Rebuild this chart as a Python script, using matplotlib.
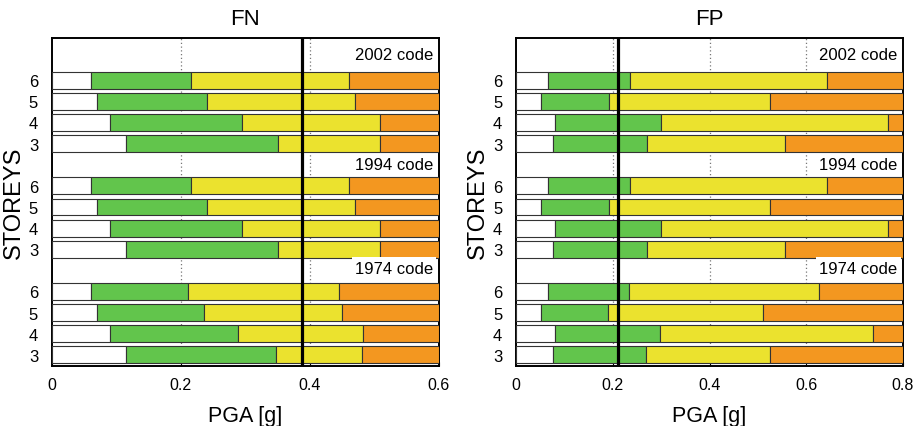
import matplotlib
matplotlib.use("Agg")
import matplotlib.pyplot as plt
import numpy as np

storeys = ["6", "5", "4", "3"]
codes = ["2002 code", "1994 code", "1974 code"]

# cumulative limits (white end, green end, yellow end) per code, rows 6,5,4,3
fn_limits = {
    "2002 code": [[0.061, 0.215, 0.461], [0.070, 0.240, 0.470], [0.090, 0.294, 0.509], [0.115, 0.351, 0.509]],
    "1994 code": [[0.061, 0.215, 0.461], [0.070, 0.240, 0.470], [0.090, 0.294, 0.509], [0.115, 0.351, 0.509]],
    "1974 code": [[0.061, 0.211, 0.445], [0.070, 0.236, 0.450], [0.090, 0.289, 0.483], [0.115, 0.347, 0.481]],
}
fp_limits = {
    "2002 code": [[0.065, 0.235, 0.643], [0.052, 0.192, 0.526], [0.081, 0.300, 0.768], [0.077, 0.270, 0.556]],
    "1994 code": [[0.065, 0.235, 0.643], [0.052, 0.192, 0.526], [0.081, 0.300, 0.768], [0.077, 0.270, 0.556]],
    "1974 code": [[0.065, 0.233, 0.626], [0.052, 0.191, 0.510], [0.081, 0.297, 0.737], [0.077, 0.268, 0.526]],
}
fn_xmax = 0.6
fp_xmax = 0.8
fn_line = 0.387
fp_line = 0.211
fn_ticks = [0, 0.2, 0.4, 0.6]
fp_ticks = [0, 0.2, 0.4, 0.6, 0.8]
fn_ticklabels = ["0", "0.2", "0.4", "0.6"]
fp_ticklabels = ["0", "0.2", "0.4", "0.6", "0.8"]

colors = ["white", "#62C54C", "#EBE22E", "#F39720"]

plt.rcParams['font.family'] = ['Liberation Sans', 'DejaVu Sans']

fig = plt.figure(figsize=(9.2, 4.27), dpi=100)
ax1 = fig.add_axes([0.0565, 0.1405, 0.4205, 0.7682])
ax2 = fig.add_axes([0.561, 0.1405, 0.4205, 0.7682])

label_offsets = [0.2, 0.0, 0.1]


def draw(ax, limits, xmax, vline, ticks, ticklabels, title):
    ypos = []
    ylabels = []
    top = 14
    for gi, code in enumerate(codes):
        header_y = top - gi * 5
        for ri, lims in enumerate(limits[code]):
            y = header_y - 1 - ri
            edges = [0] + list(lims) + [xmax]
            for k in range(4):
                ax.barh(y, edges[k + 1] - edges[k], left=edges[k], height=0.8,
                        color=colors[k], edgecolor="#333333", linewidth=0.8, zorder=3)
            ypos.append(y)
            ylabels.append(storeys[ri])
        ax.text(xmax * 0.985, header_y + label_offsets[gi], code, ha="right", va="center",
                fontsize=12, zorder=5,
                bbox=dict(boxstyle="square,pad=0.2", facecolor="white", edgecolor="none"))
    for t in ticks[1:-1]:
        ax.axvline(t, color="#777777", linestyle=(0, (1, 2)), linewidth=0.9, zorder=1)
    ax.axvline(vline, color="black", linewidth=2.3, zorder=6)
    ax.set_xlim(0, xmax)
    ax.set_ylim(-0.53, 15.0)
    ax.set_yticks(ypos)
    ax.set_yticklabels(ylabels, fontsize=12)
    ax.set_xticks(ticks)
    ax.set_xticklabels(ticklabels, fontsize=11.5)
    ax.tick_params(axis="y", length=0, pad=10)
    ax.tick_params(axis="x", direction="in", length=3, pad=8)
    for s in ax.spines.values():
        s.set_linewidth(1.4)
        s.set_color("black")
    ax.set_title(title, fontsize=16, pad=10)
    ax.set_xlabel("PGA [g]", fontsize=15.5, labelpad=9)
    ax.set_ylabel("STOREYS", fontsize=17, labelpad=3)


draw(ax1, fn_limits, fn_xmax, fn_line, fn_ticks, fn_ticklabels, "FN")
draw(ax2, fp_limits, fp_xmax, fp_line, fp_ticks, fp_ticklabels, "FP")

fig.savefig("out.png", dpi=100)
